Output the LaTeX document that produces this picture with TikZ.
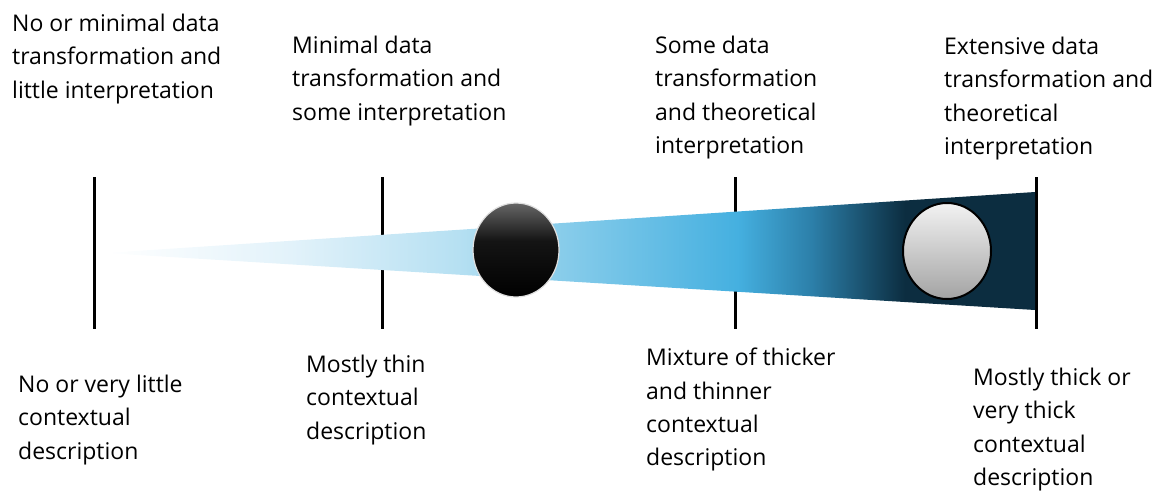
\documentclass[tikz,border=0pt]{standalone}
\usepackage{fontspec}
\setmainfont{Open Sans}
\usetikzlibrary{calc}
\definecolor{pale}{HTML}{E2F2FA}
\definecolor{lblue}{HTML}{B6E0F2}
\definecolor{mblue}{HTML}{8CCEEB}
\definecolor{sky}{HTML}{45B0E0}
\definecolor{steel}{HTML}{2C7FA9}
\definecolor{navy}{HTML}{0C2D40}
\pgfdeclarehorizontalshading{wedgefill}{100bp}{color(0bp)=(white); color(25bp)=(white);
  color(35bp)=(pale); color(44bp)=(lblue); color(49bp)=(mblue); color(59bp)=(sky);
  color(63bp)=(steel); color(68bp)=(navy); color(75bp)=(navy); color(100bp)=(navy)}
\pgfdeclareverticalshading{darkball}{100bp}{color(0bp)=(black); color(25bp)=(black);
  color(55bp)=(black!92); color(75bp)=(black!60); color(100bp)=(black!60)}
\pgfdeclareverticalshading{lightball}{100bp}{color(0bp)=(black!36); color(25bp)=(black!36);
  color(75bp)=(black!5); color(100bp)=(black!5)}

\begin{document}
\begin{tikzpicture}[
  x=1pt, y=-1pt,
  txt/.style={font=\fontsize{23}{33.3}\selectfont, align=left, inner sep=0pt, anchor=north west, text=black},
  tick/.style={line width=3pt, black}
]
\useasboundingbox (0,0) rectangle (1162,490);
\def\ytop{177} \def\ybot{329}

% ticks
\foreach \x/\n in {94/a,382/b,735/c,1036/d}
  \draw[tick] (\x,\ytop) coordinate (\n top) -- (\x,\ybot) coordinate (\n bot);

% wedge
\coordinate (tip) at (105,253);
\shade[shading=wedgefill] (tip) -- (1035,192) -- (1035,310) -- cycle;

% balls
\shade[shading=darkball, draw=black!12, line width=1.2pt] (516,250) ellipse (43 and 47);
\shade[shading=lightball, draw=black, line width=2pt] (947,251) ellipse (44 and 48);

% top labels
\node[txt] (t1) at (12,14) {No or minimal data\\transformation and\\little interpretation};
\node[txt] (t2) at (292,36) {Minimal data\\transformation and\\some interpretation};
\node[txt] (t3) at (655,36) {Some data\\transformation\\and theoretical\\interpretation};
\node[txt] (t4) at (944,37) {Extensive data\\transformation and\\theoretical\\interpretation};

% bottom labels
\node[txt] (b1) at (18,375) {No or very little\\contextual\\description};
\node[txt] (b2) at (306,355) {Mostly thin\\contextual\\description};
\node[txt] (b3) at (646,348) {Mixture of thicker\\and thinner\\contextual\\description};
\node[txt] (b4) at (973,368) {Mostly thick or\\very thick\\contextual\\description};
\end{tikzpicture}
\end{document}
